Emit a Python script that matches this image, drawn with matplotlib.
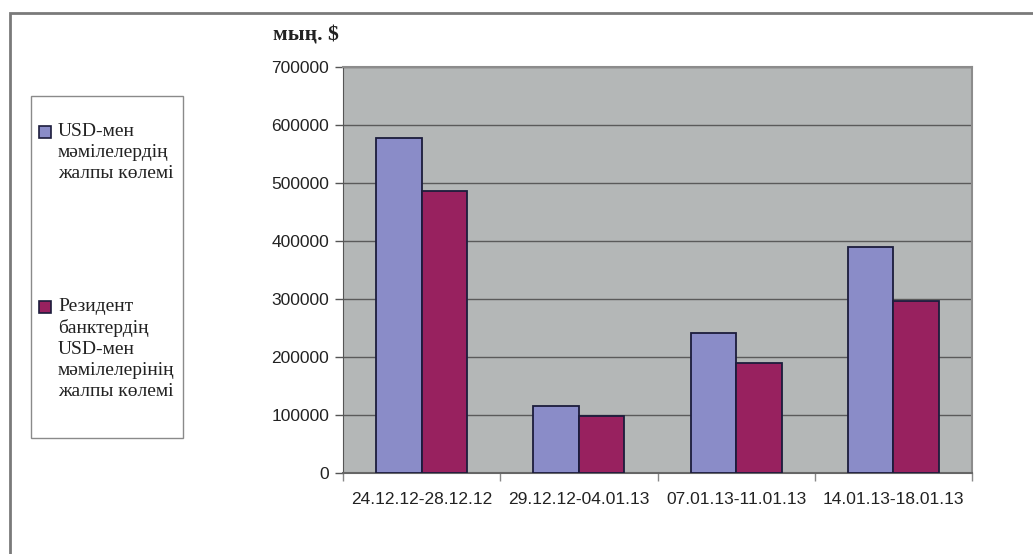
import numpy as np
import matplotlib
matplotlib.use('Agg')
import matplotlib.pyplot as plt
from matplotlib.patches import Rectangle

periods = ['24.12.12-28.12.12', '29.12.12-04.01.13',
           '07.01.13-11.01.13', '14.01.13-18.01.13']
usd_total = [577000, 116000, 242000, 390000]
usd_resident = [487000, 99000, 190000, 297000]
legend_labels = ['USD-мен\nмәмілелердің\nжалпы көлемі',
                 'Резидент\nбанктердің\nUSD-мен\nмәмілелерінің\nжалпы көлемі']
unit_label = 'мың. $'

BLUE = '#8a8cc8'
RED = '#98215f'
EDGE = '#1c1c3c'
W, H = 1033, 554

fig = plt.figure(figsize=(W / 100, H / 100), dpi=100)
fig.patch.set_facecolor('white')

# outer frame (runs off the right and bottom of the picture)
fig.patches.append(Rectangle((10 / W, -0.1), 1.2, (H - 13) / H + 0.1,
                             transform=fig.transFigure, fill=False,
                             edgecolor='#7a7a7a', linewidth=2))

ax = fig.add_axes([343 / W, 81 / H, 629 / W, 406 / H])
ax.set_facecolor('#b4b7b7')
x = np.arange(len(periods))
bw = 0.29
ax.bar(x - bw / 2, usd_total, bw, color=BLUE, edgecolor=EDGE, linewidth=1.3, zorder=3)
ax.bar(x + bw / 2, usd_resident, bw, color=RED, edgecolor=EDGE, linewidth=1.3, zorder=3)

ax.set_ylim(0, 700000)
ax.set_xlim(-0.5, len(periods) - 0.5)
ax.set_yticks(np.arange(0, 700001, 100000))
ax.set_yticklabels([str(v) for v in range(0, 700001, 100000)],
                   fontfamily='Liberation Sans', fontsize=12.5, color='#222222')
ax.yaxis.grid(True, color='#5a5a5a', linewidth=1, zorder=1)
ax.tick_params(axis='y', length=6, width=1, color='#555555', pad=4)

# ticks between groups, labels at group centres
ax.set_xticks(np.arange(-0.5, len(periods), 1.0))
ax.set_xticklabels([])
ax.tick_params(axis='x', which='major', length=6, width=1, color='#888888')
ax.set_xticks(x, minor=True)
ax.set_xticklabels(periods, minor=True, fontfamily='Liberation Sans',
                   fontsize=12.5, color='#222222')
ax.tick_params(axis='x', which='minor', length=0, pad=14)

for side in ['top', 'right']:
    ax.spines[side].set_color('#8c8c8c')
    ax.spines[side].set_linewidth(1.5)
ax.spines['left'].set_color('#555555')
ax.spines['bottom'].set_color('#666666')
ax.spines['bottom'].set_linewidth(1.5)

fig.text(273 / W, 1 - 35 / H, unit_label, fontfamily='Liberation Serif',
         fontweight='bold', fontsize=15.5, va='center', ha='left', color='#222222')

# legend box
fig.patches.append(Rectangle((31 / W, 1 - 438 / H), 152 / W, 342 / H,
                             transform=fig.transFigure, fill=False,
                             edgecolor='#8a8a8a', linewidth=1))
for lab, col, ytop in zip(legend_labels, [BLUE, RED], [133, 308]):
    fig.patches.append(Rectangle((39 / W, 1 - (ytop + 5) / H), 12 / W, 12 / H,
                                 transform=fig.transFigure, facecolor=col,
                                 edgecolor=EDGE, linewidth=1.2))
    fig.text(58 / W, 1 - (ytop - 10) / H, lab, fontfamily='Liberation Serif',
             fontsize=14, va='top', ha='left', color='#222222', linespacing=1.3)

fig.savefig('out.png', dpi=100)
